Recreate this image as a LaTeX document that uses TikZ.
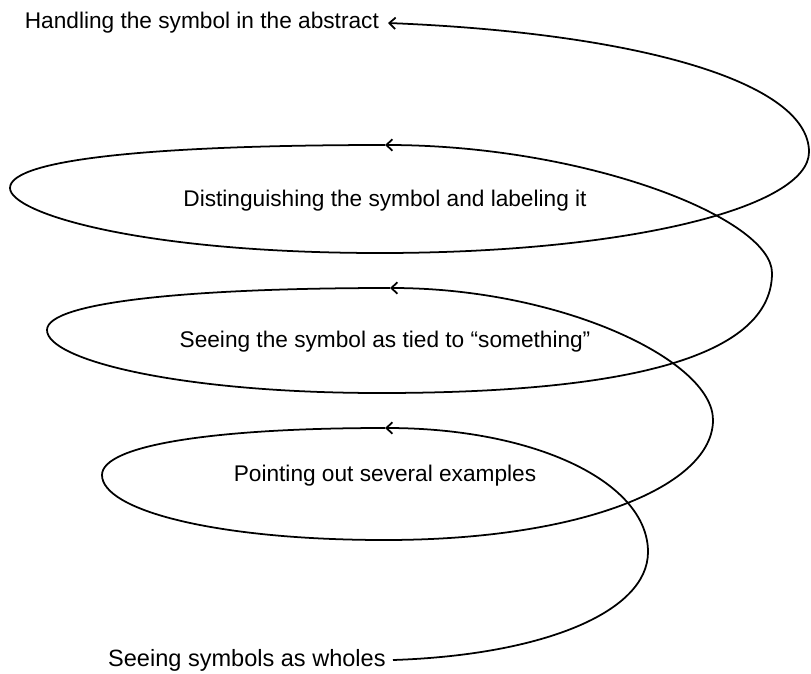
\documentclass[tikz,border=0pt]{standalone}
\usepackage{fontspec}
\setmainfont{Liberation Sans}
\usetikzlibrary{arrows.meta,positioning}

\begin{document}
\begin{tikzpicture}[x=0.02cm, y=-0.02cm,
		stage/.style={font=\fontsize{12.9}{15}\selectfont, inner sep=0pt},
		spiral/.style={line width=1pt, -{Straight Barb[length=3.5pt,width=6.5pt]}}]
			\useasboundingbox (0,0) rectangle (811,673);
			\coordinate (s0) at (393,660);
			\coordinate (r4) at (648,552);
			\coordinate (t3) at (385,428);
			\coordinate (l3) at (102,475);
			\coordinate (b3) at (385,540);
			\coordinate (r3) at (713,420);
			\coordinate (t2) at (390,288);
			\coordinate (l2) at (47,330);
			\coordinate (b2) at (380,393);
			\coordinate (r2) at (772,273);
			\coordinate (t1) at (385,145);
			\coordinate (l1) at (10,188);
			\coordinate (b1) at (380,253);
			\coordinate (r1) at (809,152);
			\coordinate (t0) at (388,23);
			\node (abstract) [stage, left=5pt of t0] {Handling the symbol in the abstract};
			\node (labeling) at (385,201) [stage] {Distinguishing the symbol and labeling it};
			\node (tied) at (385,342) [stage] {Seeing the symbol as tied to “something”};
			\node (examples) at (385,476) [stage] {Pointing out several examples};
			\node (wholes) [stage, left=4pt of s0, font=\fontsize{13.4}{15}\selectfont] {Seeing symbols as wholes};
			\draw[spiral] (s0) .. controls +(150,-5) and +(0,60) .. (r4)
				.. controls +(0,-70) and +(150,0) .. (t3);
			\draw[spiral] (t3) .. controls +(-170,0) and +(0,-30) .. (l3)
				.. controls +(0,35) and +(-170,0) .. (b3)
				.. controls +(200,0) and +(0,65) .. (r3)
				.. controls +(0,-60) and +(170,0) .. (t2);
			\draw[spiral] (t2) .. controls +(-200,0) and +(0,-28) .. (l2)
				.. controls +(0,30) and +(-200,0) .. (b2)
				.. controls +(270,0) and +(0,77) .. (r2)
				.. controls +(0,-55) and +(200,0) .. (t1);
			\draw[spiral] (t1) .. controls +(-220,0) and +(0,-30) .. (l1)
				.. controls +(0,25) and +(-240,0) .. (b1)
				.. controls +(250,0) and +(0,55) .. (r1)
				.. controls +(0,-70) and +(250,10) .. (t0);
\end{tikzpicture}
\end{document}
